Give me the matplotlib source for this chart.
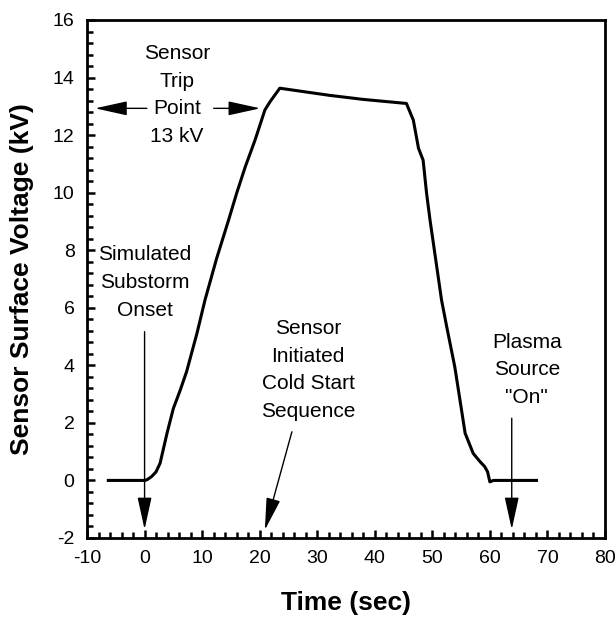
import numpy as np
import matplotlib
matplotlib.use('Agg')
import matplotlib.pyplot as plt
from matplotlib.ticker import MultipleLocator

plt.rcParams['font.family'] = ['Liberation Sans', 'DejaVu Sans']
plt.rcParams['axes.unicode_minus'] = False

# sensor surface voltage trace
time_s = [-6.3, 0.0, 0.4, 1.2, 2.0, 2.7, 3.9, 5.0, 6.2, 7.3, 9.1, 10.5, 12.5,
          14.6, 16.0, 17.5, 19.2, 20.9, 21.8, 23.5, 28.0, 32.2, 38.0, 45.5,
          46.7, 47.6, 48.4, 49.0, 49.6, 51.6, 52.5, 53.9, 54.8, 55.7, 57.1,
          58.3, 59.1, 59.6, 60.0, 60.6, 68.1]
volt_kv = [0.0, 0.0, 0.02, 0.13, 0.3, 0.6, 1.64, 2.5, 3.14, 3.78, 5.11, 6.27, 7.7,
           9.05, 9.98, 10.9, 11.83, 12.87, 13.16, 13.63, 13.5, 13.38, 13.24, 13.1,
           12.52, 11.54, 11.13, 9.98, 9.05, 6.27, 5.34, 3.95, 2.8, 1.64, 0.94,
           0.65, 0.48, 0.3, -0.05, 0.0, 0.0]

x_ticks = np.arange(-10, 81, 10)
y_ticks = np.arange(-2, 17, 2)

fig = plt.figure(figsize=(6.15, 6.21), dpi=100)
ax = fig.add_axes([0.1415, 0.1337, 0.8422, 0.8341])

ax.plot(time_s, volt_kv, color='black', linewidth=2.2)

ax.set_xlim(-10, 80)
ax.set_ylim(-2, 16)
ax.set_xticks(x_ticks)
ax.set_yticks(y_ticks)
ax.xaxis.set_minor_locator(MultipleLocator(2))
ax.yaxis.set_minor_locator(MultipleLocator(0.4))
ax.tick_params(which='both', direction='in', top=False, right=False, width=1.8)
ax.tick_params(which='major', length=6, labelsize=14, pad=9)
ax.tick_params(which='minor', length=4)
for s in ax.spines.values():
    s.set_linewidth(2.0)

ax.set_xlabel('Time (sec)', fontsize=19, fontweight='bold', va='center')
ax.set_ylabel('Sensor Surface Voltage (kV)', fontsize=19, fontweight='bold', va='center')
ax.xaxis.set_label_coords(0.5, -0.1255)
ax.yaxis.set_label_coords(-0.1255, 0.5)

aprops = dict(arrowstyle='-|>,head_length=1.0,head_width=0.22', mutation_scale=20,
              color='black', linewidth=1.0, shrinkA=0, shrinkB=0)
txt = dict(ha='center', va='center', fontsize=15, linespacing=1.58)

ax.text(5.6, 13.39, 'Sensor\nTrip\nPoint\n13 kV', **txt)
ax.annotate('', xy=(-8.6, 12.93), xytext=(0.4, 12.93), arrowprops=aprops)
ax.annotate('', xy=(20.1, 12.93), xytext=(12.0, 12.93), arrowprops=aprops)

ax.text(0.1, 6.88, 'Simulated\nSubstorm\nOnset', **txt)
ax.annotate('', xy=(0.0, -1.7), xytext=(0.0, 5.17), arrowprops=aprops)

ax.text(28.4, 3.84, 'Sensor\nInitiated\nCold Start\nSequence', **txt)
ax.annotate('', xy=(20.9, -1.72), xytext=(25.6, 1.69), arrowprops=aprops)

ax.text(66.4, 3.84, 'Plasma\nSource\n"On"', **txt)
ax.annotate('', xy=(63.8, -1.7), xytext=(63.8, 2.16), arrowprops=aprops)

fig.savefig('out.png', dpi=100)
